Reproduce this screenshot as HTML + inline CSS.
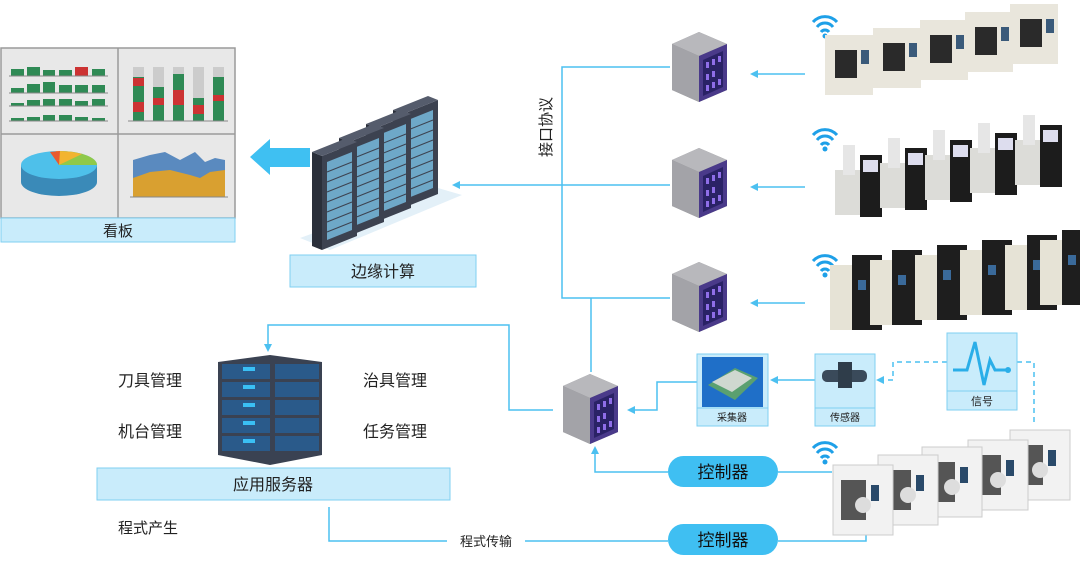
<!DOCTYPE html>
<html><head><meta charset="utf-8"><style>
body{margin:0;background:#fff;}
svg{display:block;font-family:"Liberation Sans","Noto Sans CJK SC",sans-serif;}
</style></head><body>
<svg width="1080" height="563" viewBox="0 0 1080 563" xmlns="http://www.w3.org/2000/svg">
<defs>
<g id="srv">
 <polygon points="0,12 27,0 55,12 55,58 27,70 0,58" fill="#8a8a8f"/>
 <polygon points="0,12 27,0 55,12 27,24" fill="#b8b8bc"/>
 <polygon points="0,12 27,24 27,70 0,58" fill="#a3a3a8"/>
 <polygon points="27,24 55,12 55,58 27,70" fill="#4a3a8a"/>
 <polygon points="31,28 51,19 51,55 31,64" fill="#2a2266"/>
 <rect x="34" y="30" width="3" height="6" fill="#8f6ee8"/><rect x="40" y="27" width="3" height="6" fill="#8f6ee8"/><rect x="46" y="24" width="3" height="6" fill="#8f6ee8"/>
 <rect x="34" y="42" width="3" height="6" fill="#8f6ee8"/><rect x="40" y="39" width="3" height="6" fill="#8f6ee8"/>
 <rect x="34" y="53" width="3" height="6" fill="#8f6ee8"/><rect x="40" y="50" width="3" height="6" fill="#8f6ee8"/><rect x="46" y="47" width="3" height="6" fill="#8f6ee8"/>
</g>
<g id="wifi" fill="none" stroke="#1ea0e8" stroke-width="3">
 <path d="M0,8 A16,16 0 0 1 24,8"/><path d="M4,13 A10,10 0 0 1 20,13"/><path d="M8,18 A5,5 0 0 1 16,18"/>
 <circle cx="12" cy="22" r="2.5" fill="#1ea0e8" stroke="none"/>
</g>
<g id="cab">
 <polygon points="0,14 10,18 10,112 0,108" fill="#2a2f3a"/>
 <polygon points="10,18 45,4 45,98 10,112" fill="#3c4250"/>
 <polygon points="0,14 35,0 45,4 10,18" fill="#555c6c"/>
 <polygon points="15,24 40,14 40,92 15,102" fill="#6ea8c8"/>
 <g stroke="#3c4250" stroke-width="1"><line x1="15" y1="34" x2="40" y2="24"/><line x1="15" y1="44" x2="40" y2="34"/><line x1="15" y1="54" x2="40" y2="44"/><line x1="15" y1="64" x2="40" y2="54"/><line x1="15" y1="74" x2="40" y2="64"/><line x1="15" y1="84" x2="40" y2="74"/><line x1="15" y1="94" x2="40" y2="84"/></g>
</g>
<g id="mach1"><rect x="0" y="10" width="48" height="60" fill="#e9e6dc"/><rect x="10" y="25" width="22" height="28" fill="#2a2a2a"/><rect x="36" y="25" width="8" height="14" fill="#3a5a7a"/></g>
<g id="mach2"><rect x="0" y="35" width="40" height="45" fill="#dcdcd8"/><rect x="25" y="20" width="22" height="62" fill="#1c1c1c"/><rect x="28" y="25" width="15" height="12" fill="#dde"/><rect x="8" y="10" width="12" height="30" fill="#e6e6e6"/></g>
<g id="mach3"><rect x="0" y="15" width="25" height="65" fill="#e6e3d6"/><rect x="22" y="5" width="30" height="75" fill="#1e1e1e"/><rect x="28" y="30" width="8" height="10" fill="#3a6a9a"/></g>
<g id="mach4"><rect x="0" y="10" width="60" height="70" fill="#f2f2f2" stroke="#ccc"/><rect x="8" y="25" width="25" height="40" fill="#555"/><circle cx="30" cy="50" r="8" fill="#ddd"/><rect x="38" y="30" width="8" height="16" fill="#2a4a6a"/></g>
</defs>

<!-- dashboard -->
<rect x="1" y="48" width="234" height="170" fill="#e8e8e8" stroke="#9a9a9a" stroke-width="1.5"/>
<line x1="118" y1="48" x2="118" y2="218" stroke="#9a9a9a" stroke-width="1.5"/>
<line x1="1" y1="134" x2="235" y2="134" stroke="#9a9a9a" stroke-width="1.5"/>
<rect x="1" y="218" width="234" height="24" fill="#c9ecfb" stroke="#7fcff2"/>
<text x="118" y="236" font-size="15" text-anchor="middle" fill="#222">看板</text>
<g fill="#2f8a55">
 <rect x="11" y="69" width="13" height="7"/><rect x="27" y="67" width="13" height="9"/><rect x="43" y="70" width="12" height="6"/><rect x="59" y="70" width="13" height="6"/><rect x="75" y="67" width="13" height="9" fill="#c33"/><rect x="92" y="69" width="13" height="7"/>
 <rect x="11" y="88" width="13" height="5"/><rect x="27" y="84" width="13" height="9"/><rect x="43" y="82" width="12" height="11"/><rect x="59" y="85" width="13" height="8"/><rect x="75" y="85" width="13" height="8"/><rect x="92" y="85" width="13" height="8"/>
 <rect x="11" y="103" width="13" height="3"/><rect x="27" y="100" width="13" height="6"/><rect x="43" y="99" width="12" height="7"/><rect x="59" y="99" width="13" height="7"/><rect x="75" y="101" width="13" height="5"/><rect x="92" y="99" width="13" height="7"/>
 <rect x="11" y="118" width="13" height="3"/><rect x="27" y="117" width="13" height="4"/><rect x="43" y="115" width="12" height="6"/><rect x="59" y="115" width="13" height="6"/><rect x="75" y="117" width="13" height="4"/><rect x="92" y="118" width="13" height="3"/>
</g>
<g stroke="#888"><line x1="9" y1="76" x2="108" y2="76"/><line x1="9" y1="93" x2="108" y2="93"/><line x1="9" y1="106" x2="108" y2="106"/><line x1="9" y1="121" x2="108" y2="121"/></g>
<g>
 <rect x="133" y="67" width="11" height="54" fill="#2f8a55"/><rect x="133" y="67" width="11" height="10" fill="#ccc"/><rect x="133" y="78" width="11" height="8" fill="#c33"/><rect x="133" y="102" width="11" height="10" fill="#c33"/>
 <rect x="153" y="67" width="11" height="54" fill="#2f8a55"/><rect x="153" y="67" width="11" height="20" fill="#ccc"/><rect x="153" y="98" width="11" height="7" fill="#c33"/>
 <rect x="173" y="67" width="11" height="54" fill="#2f8a55"/><rect x="173" y="67" width="11" height="7" fill="#ccc"/><rect x="173" y="90" width="11" height="15" fill="#c33"/>
 <rect x="193" y="67" width="11" height="54" fill="#2f8a55"/><rect x="193" y="67" width="11" height="31" fill="#ccc"/><rect x="193" y="105" width="11" height="9" fill="#c33"/>
 <rect x="213" y="67" width="11" height="54" fill="#2f8a55"/><rect x="213" y="67" width="11" height="10" fill="#ccc"/><rect x="213" y="95" width="11" height="6" fill="#c33"/>
 <line x1="128" y1="121" x2="228" y2="121" stroke="#888"/>
</g>
<path d="M21,165 L21,182 A38,14 0 0 0 97,182 L97,165 Z" fill="#3a8ab8"/>
<ellipse cx="59" cy="165" rx="38" ry="14" fill="#4ec0ea"/>
<path d="M59,165 L56,151 A38,14 0 0 1 97,165 Z" fill="#8fc94a"/>
<path d="M59,165 L56,151 A38,14 0 0 1 82,154 Z" fill="#f2b430"/>
<path d="M59,165 L50,152 L60,151 Z" fill="#e85a30"/>
<polygon points="133,160 150,155 165,152 180,160 195,152 205,162 215,158 225,160 225,197 133,197" fill="#5a8abf"/>
<polygon points="133,178 150,172 170,170 190,175 200,178 210,172 225,170 225,197 133,197" fill="#d9a030"/>
<line x1="130" y1="197" x2="228" y2="197" stroke="#888"/>
<polygon points="250,157 270,139 270,148 310,148 310,167 270,167 270,175" fill="#3fc0f2"/>
<!-- rack -->
<polygon points="300,238 330,250 462,195 438,188" fill="#e3f0f8"/>
<use href="#cab" x="393" y="96"/>
<use href="#cab" x="366" y="110"/>
<use href="#cab" x="339" y="124"/>
<use href="#cab" x="312" y="138"/>
<rect x="290" y="255" width="186" height="32" fill="#c9ecfb" stroke="#7fcff2"/>
<text x="383" y="277" font-size="16" text-anchor="middle" fill="#222">边缘计算</text>

<g stroke="#4cc0f0" stroke-width="1.5" fill="none">
 <polyline points="670,67 562,67 562,298 670,298"/>
 <line x1="562" y1="185" x2="670" y2="185"/>
 <line x1="562" y1="185" x2="458" y2="185"/>
 <line x1="591" y1="298" x2="591" y2="372"/>
 <line x1="805" y1="74" x2="755" y2="74"/>
 <line x1="805" y1="187" x2="755" y2="187"/>
 <line x1="805" y1="303" x2="755" y2="303"/>
 <polyline points="268,345 268,325 509,325 509,410 553,410"/>
 <polyline points="697,382 657,382 657,410 632,410"/>
 <line x1="815" y1="380" x2="775" y2="380"/>
 <polyline points="595,452 595,472 668,472"/>
 <line x1="778" y1="472" x2="832" y2="472"/>
 <polyline points="329,507 329,541 447,541"/>
 <polyline points="525,541 668,541"/>
 <polyline points="778,541 866,541 866,527"/>
</g>
<g stroke="#4cc0f0" stroke-width="1.5" fill="none" stroke-dasharray="5,4">
 <polyline points="947,362 893,362 893,380 883,380"/>
 <polyline points="1017,362 1034,362 1034,422"/>
</g>
<g fill="#4cc0f0">
 <polygon points="452,185 460,181 460,189"/>
 <polygon points="750,74 758,70 758,78"/><polygon points="750,187 758,183 758,191"/><polygon points="750,303 758,299 758,307"/>
 <polygon points="268,352 264,344 272,344"/>
 <polygon points="627,410 635,406 635,414"/>
 <polygon points="770,380 778,376 778,384"/>
 <polygon points="876,380 884,376 884,384"/>
 <polygon points="595,446 591,454 599,454"/>
 <polygon points="866,522 862,530 870,530"/>
</g>
<text font-size="15" fill="#222" transform="translate(551,157) rotate(-90)">接口协议</text>

<use href="#srv" x="672" y="32"/>
<use href="#srv" x="672" y="148"/>
<use href="#srv" x="672" y="262"/>
<use href="#srv" x="563" y="374"/>

<use href="#wifi" x="813" y="14"/><use href="#wifi" x="813" y="127"/><use href="#wifi" x="813" y="253"/><use href="#wifi" x="813" y="440"/>
<use href="#mach1" x="825" y="25"/><use href="#mach1" x="873" y="18"/><use href="#mach1" x="920" y="10"/><use href="#mach1" x="965" y="2"/><use href="#mach1" x="1010" y="-6"/>
<use href="#mach2" x="835" y="135"/><use href="#mach2" x="880" y="128"/><use href="#mach2" x="925" y="120"/><use href="#mach2" x="970" y="113"/><use href="#mach2" x="1015" y="105"/>
<use href="#mach3" x="830" y="250"/><use href="#mach3" x="870" y="245"/><use href="#mach3" x="915" y="240"/><use href="#mach3" x="960" y="235"/><use href="#mach3" x="1005" y="230"/><use href="#mach3" x="1040" y="225"/>
<use href="#mach4" x="1010" y="420"/><use href="#mach4" x="968" y="430"/><use href="#mach4" x="922" y="437"/><use href="#mach4" x="878" y="445"/><use href="#mach4" x="833" y="455"/>

<rect x="697" y="354" width="71" height="72" fill="#c9ecfb" stroke="#7fcff2"/>
<rect x="702" y="357" width="61" height="50" fill="#1f6fc8"/>
<polygon points="708,385 735,368 758,378 735,400" fill="#5aa070"/><polygon points="712,382 735,370 752,378 732,392" fill="#cfd8d0"/>
<line x1="697" y1="408" x2="768" y2="408" stroke="#7fcff2"/>
<text x="732" y="421" font-size="10" text-anchor="middle" fill="#222">采集器</text>
<rect x="815" y="354" width="60" height="72" fill="#c9ecfb" stroke="#7fcff2"/>
<rect x="822" y="370" width="45" height="12" rx="5" fill="#3a4a5a"/><rect x="838" y="362" width="14" height="26" fill="#2f3d4a"/>
<line x1="815" y1="408" x2="875" y2="408" stroke="#7fcff2"/>
<text x="845" y="421" font-size="10" text-anchor="middle" fill="#222">传感器</text>
<rect x="947" y="333" width="70" height="77" fill="#c9ecfb" stroke="#7fcff2"/>
<polyline points="953,370 967,370 975,342 984,385 990,360 995,370 1008,370" fill="none" stroke="#2aaee8" stroke-width="3"/>
<circle cx="1008" cy="370" r="3" fill="#2aaee8"/>
<line x1="947" y1="391" x2="1017" y2="391" stroke="#7fcff2"/>
<text x="982" y="405" font-size="11" text-anchor="middle" fill="#222">信号</text>

<rect x="668" y="456" width="110" height="31" rx="15.5" fill="#3fbff2"/>
<text x="723" y="478" font-size="17" text-anchor="middle" fill="#111">控制器</text>
<rect x="668" y="524" width="110" height="31" rx="15.5" fill="#3fbff2"/>
<text x="723" y="546" font-size="17" text-anchor="middle" fill="#111">控制器</text>
<rect x="449" y="530" width="74" height="22" fill="#fff"/>
<text x="486" y="546" font-size="13" text-anchor="middle" fill="#222">程式传输</text>

<g>
 <polygon points="218,362 270,355 322,362 322,455 270,465 218,455" fill="#3a4252"/>
 <g fill="#2a5a8a">
  <rect x="222" y="364" width="48" height="15"/><rect x="222" y="382" width="48" height="15"/><rect x="222" y="400" width="48" height="15"/><rect x="222" y="418" width="48" height="15"/><rect x="222" y="436" width="48" height="15"/>
  <rect x="275" y="364" width="44" height="15"/><rect x="275" y="382" width="44" height="15"/><rect x="275" y="400" width="44" height="15"/><rect x="275" y="418" width="44" height="15"/><rect x="275" y="436" width="44" height="15"/>
 </g>
 <g fill="#3ac0f5"><rect x="243" y="367" width="12" height="4"/><rect x="243" y="385" width="12" height="4"/><rect x="243" y="403" width="12" height="4"/><rect x="243" y="421" width="12" height="4"/><rect x="243" y="439" width="12" height="4"/></g>
</g>
<text x="118" y="386" font-size="16" fill="#222">刀具管理</text>
<text x="118" y="437" font-size="16" fill="#222">机台管理</text>
<text x="363" y="386" font-size="16" fill="#222">治具管理</text>
<text x="363" y="437" font-size="16" fill="#222">任务管理</text>
<rect x="97" y="468" width="353" height="32" fill="#c9ecfb" stroke="#7fcff2"/>
<text x="273" y="490" font-size="16" text-anchor="middle" fill="#222">应用服务器</text>
<text x="118" y="533" font-size="15" fill="#222">程式产生</text>
</svg>
</body></html>
